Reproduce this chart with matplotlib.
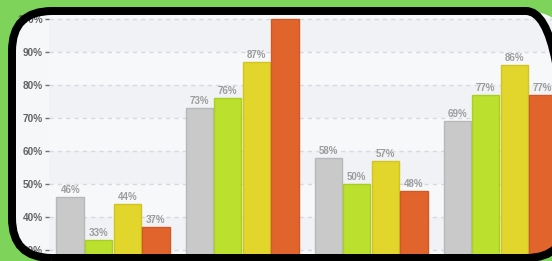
import matplotlib
matplotlib.use("Agg")
import matplotlib.pyplot as plt
from matplotlib.patches import FancyBboxPatch
import numpy as np

# ---- data ----
categories = ["Group 1", "Group 2", "Group 3", "Group 4"]
series_names = ["Series A", "Series B", "Series C", "Series D"]
series_a = [46, 73, 58, 69]
series_b = [33, 76, 50, 77]
series_c = [44, 87, 57, 86]
series_d = [37, 100, 48, 77]
yticks = [30, 40, 50, 60, 70, 80, 90, 100]

series = [series_a, series_b, series_c, series_d]
face_colors = ["#c9c9c9", "#bce02e", "#e2d52b", "#e1642d"]
edge_colors = ["#b8b8b8", "#a9cf24", "#d2c424", "#cf5a28"]

W, H, DPI = 552, 261, 100
fig = plt.figure(figsize=(W / DPI, H / DPI), dpi=DPI)
fig.patch.set_facecolor("#7ed35b")

def px_box(l, t, r, b):
    # pixel coords (top-left origin) to inches box
    return (l / DPI, (H - b) / DPI, (r - l) / DPI, (b - t) / DPI)

x0, y0, w0, h0 = px_box(12, 11, 566, 258)
rs = 0.40
style = f"round,pad=0,rounding_size={rs}"
inner = FancyBboxPatch((x0, y0), w0, h0, boxstyle=style,
                       transform=fig.dpi_scale_trans, facecolor="#f5f7f9",
                       edgecolor="none", zorder=-1)
fig.add_artist(inner)
clipper = FancyBboxPatch((x0, y0), w0, h0, boxstyle=style,
                         transform=fig.dpi_scale_trans, facecolor="none",
                         edgecolor="none")
border = FancyBboxPatch((x0, y0), w0, h0, boxstyle=style,
                        transform=fig.dpi_scale_trans, facecolor="none",
                        edgecolor="black", linewidth=8 * 72 / DPI, zorder=10)
fig.add_artist(border)

ax_l, ax_r, ax_t, ax_b = 48.5, 552, 16, 254
ax = fig.add_axes([ax_l / W, (H - ax_b) / H, (ax_r - ax_l) / W, (ax_b - ax_t) / H])
ax.set_facecolor("none")
for s in ax.spines.values():
    s.set_visible(False)

ax.set_xlim(-0.5, 3.403)
ax.set_ylim(28.8, 100.9)

# background bands
band_cols = ["#f7f8fa", "#f0f2f5"]
for lo in range(20, 110, 10):
    p = ax.axhspan(lo, lo + 10, color=band_cols[(lo // 10) % 2], zorder=0, lw=0)
    p.set_clip_path(clipper)

# grid
for v in yticks:
    ln = ax.axhline(v, color="#d6d9de", lw=1, ls=(0, (3, 3)), zorder=1)
    ln.set_clip_path(clipper)

x = np.arange(len(categories))
bw = 0.221
for j, vals in enumerate(series):
    xs = x + (j - 1.5) * bw
    bars = ax.bar(xs, vals, width=bw - 0.008, color=face_colors[j],
                  edgecolor=edge_colors[j], linewidth=1, zorder=3,
                  label=series_names[j])
    for b, v in zip(bars, vals):
        b.set_clip_path(clipper)
        t = ax.text(b.get_x() + b.get_width() / 2, v + 0.6, f"{v}%",
                    ha="center", va="bottom", fontsize=7,
                    family="Liberation Sans", weight="bold", color="#9c9c9c",
                    zorder=4)
        t.set_clip_path(clipper)

ax.set_xticks([])
ax.set_yticks(yticks)
ax.set_yticklabels([f"{v}%" for v in yticks], family="Liberation Sans",
                   weight="bold", fontsize=7.2, color="#626262")
ax.tick_params(axis="y", length=3, width=1, color="#707070", pad=1)

fig.savefig("out.png", dpi=DPI, facecolor=fig.get_facecolor())
